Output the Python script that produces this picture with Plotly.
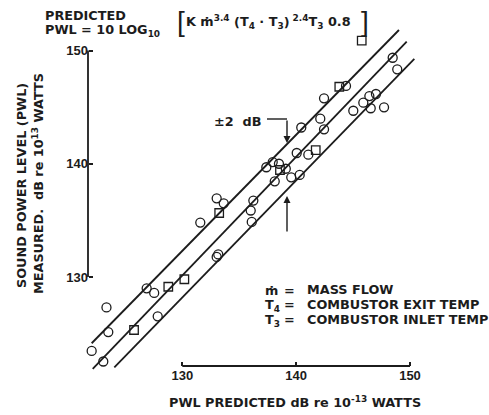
import plotly.graph_objects as go

W, H = 489, 415

# PWL, dB re 1e-13 W: predicted (x) vs measured (y)
circle_pred = [122.04, 123.06, 123.50, 123.34, 126.87, 127.53, 127.84, 131.58, 133.02, 133.16,
               133.02, 133.64, 136.10, 136.01, 136.24, 137.38, 137.94, 138.49, 139.09, 138.12,
               139.57, 140.31, 140.05, 141.07, 140.45, 142.12, 142.45, 142.45, 144.38, 145.02,
               145.90, 146.43, 147.01, 146.55, 147.72, 148.48, 148.88]
circle_meas = [123.47, 122.54, 125.14, 127.31, 129.00, 128.59, 126.53, 134.81, 131.77, 131.99,
               136.95, 136.51, 134.86, 135.87, 136.75, 139.69, 140.15, 140.00, 139.56, 138.45,
               138.80, 139.01, 140.95, 140.80, 143.20, 143.98, 143.04, 145.78, 146.87, 144.68,
               145.39, 145.98, 146.16, 144.90, 144.98, 149.36, 148.34]
square_pred = [125.76, 128.77, 130.18, 133.24, 138.58, 141.72, 143.79, 145.76]
square_meas = [125.32, 129.14, 129.80, 135.65, 139.45, 141.21, 146.80, 150.87]

# +2 dB, centre and -2 dB lines (end points)
band_pred = [[122.04, 149.03], [122.13, 149.71], [124.03, 150.38]]
band_meas = [[124.15, 151.81], [121.88, 150.78], [122.03, 149.25]]

tick_vals = [130, 140, 150]
tick_text = ["130", "140", "150"]

INK = "#1c1c1c"
FONT = "DejaVu Sans"


def px(x):
    return x / W


def py(y):
    return 1 - y / H


fig = go.Figure()

for bx, by in zip(band_pred, band_meas):
    fig.add_trace(go.Scatter(x=bx, y=by, mode="lines",
                             line=dict(color=INK, width=1.8), showlegend=False,
                             hoverinfo="skip"))

fig.add_trace(go.Scatter(x=circle_pred, y=circle_meas, mode="markers",
                         marker=dict(symbol="circle-open", size=9, color=INK,
                                     line=dict(width=1.3, color=INK)),
                         showlegend=False, cliponaxis=False))
fig.add_trace(go.Scatter(x=square_pred, y=square_meas, mode="markers",
                         marker=dict(symbol="square-open", size=8.5, color=INK,
                                     line=dict(width=1.3, color=INK)),
                         showlegend=False, cliponaxis=False))

# detached axis lines, 130-150 only
fig.add_shape(type="line", xref="x", yref="paper", x0=130, x1=150,
              y0=py(366), y1=py(366), line=dict(color=INK, width=1.8))
fig.add_shape(type="line", xref="paper", yref="y", x0=px(88), x1=px(88),
              y0=130, y1=150, line=dict(color=INK, width=1.8))

txt = dict(family=FONT, size=12.8, color=INK, weight="bold")


def note(text, x, y, xanchor="left", yanchor="middle", font=None, **kw):
    fig.add_annotation(text=text, x=px(x), y=py(y), xref="paper", yref="paper",
                       xanchor=xanchor, yanchor=yanchor, showarrow=False,
                       font=font or txt, **kw)


note("PREDICTED", 43, 16)
note("PWL = 10 LOG<sub>10</sub>", 43, 31)
note("[", 175, 22, font=dict(family="Liberation Sans", size=28, color=INK))
note("]", 371, 22, xanchor="right", font=dict(family="Liberation Sans", size=28, color=INK))
note("K ṁ<sup>3.4</sup> (T<sub>4</sub> · T<sub>3</sub>)<sup> 2.4</sup>T<sub>3</sub> 0.8", 184, 22)

note("SOUND POWER LEVEL (PWL)", 21, 186, xanchor="center", textangle=-90)
note("MEASURED.  dB re 10<sup>13</sup> WATTS", 38, 184, xanchor="center", textangle=-90)
note("PWL PREDICTED dB re 10<sup>-13</sup> WATTS", 295, 402, xanchor="center")

note("±2  dB", 263, 122, xanchor="right")
fig.add_shape(type="line", xref="paper", yref="paper", x0=px(267), x1=px(287),
              y0=py(119), y1=py(119), line=dict(color=INK, width=1.4))
fig.add_annotation(x=px(287), y=py(143), xref="paper", yref="paper", ax=0, ay=-24,
                   text="", showarrow=True, arrowhead=2, arrowsize=1, arrowwidth=1.4,
                   arrowcolor=INK)
fig.add_annotation(x=px(287), y=py(196), xref="paper", yref="paper", ax=0, ay=37,
                   text="", showarrow=True, arrowhead=2, arrowsize=1, arrowwidth=1.4,
                   arrowcolor=INK)

note("ṁ", 263, 290)
note("T<sub>4</sub>", 263, 305)
note("T<sub>3</sub>", 263, 320)
for yy in (290, 304, 319):
    note("=", 282, yy)
note("MASS FLOW", 305, 289)
note("COMBUSTOR EXIT TEMP", 305, 304)
note("COMBUSTOR INLET TEMP", 305, 319)

tick_font = dict(family="Liberation Sans", size=13, color=INK, weight="bold")
fig.update_layout(
    width=W, height=H,
    margin=dict(l=0, r=0, t=0, b=0),
    paper_bgcolor="white", plot_bgcolor="white",
    xaxis=dict(range=[113.988, 156.939], domain=[0, 1], anchor="free", position=py(366),
               tickvals=tick_vals, ticktext=tick_text, ticks="inside", ticklen=4,
               tickwidth=1.5, tickcolor=INK, tickfont=tick_font, showgrid=False,
               zeroline=False, showline=False),
    yaxis=dict(range=[117.815, 154.459], domain=[0, 1], anchor="free", position=px(88),
               tickvals=tick_vals, ticktext=tick_text, ticks="inside", ticklen=4,
               tickwidth=1.5, tickcolor=INK, tickfont=tick_font, showgrid=False,
               zeroline=False, showline=False),
    showlegend=False,
)

# page body has a default 8px margin; drop it so the figure fills the window
fig.write_html("out.html", config={"displayModeBar": False},
               post_script="document.body.style.margin='0';document.body.style.overflow='hidden';")
